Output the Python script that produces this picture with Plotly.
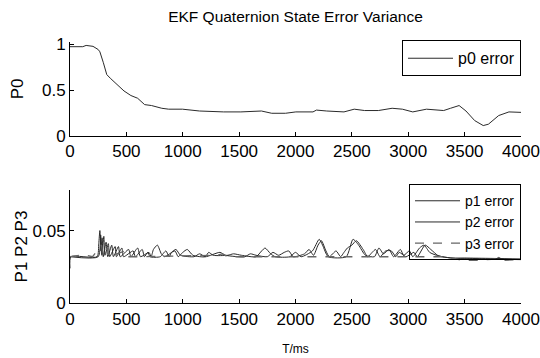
import plotly.graph_objects as go

# ---- data ----
t0 = [0, 113, 143, 204, 250, 265, 296, 326, 357, 418, 479, 540, 600, 662, 723, 814, 875, 997, 1149, 1363, 1515,
      1698, 1789, 1911, 2003, 2155, 2186, 2277, 2430, 2521, 2613, 2735, 2857, 2948, 3040, 3162, 3314, 3375, 3451,
      3512, 3589, 3665, 3711, 3802, 3893, 4000]
v0 = [0.976, 0.976, 0.99, 0.98, 0.945, 0.92, 0.80, 0.67, 0.63, 0.56, 0.49, 0.44, 0.41, 0.34, 0.33, 0.30, 0.29, 0.29,
      0.27, 0.26, 0.26, 0.27, 0.245, 0.245, 0.26, 0.26, 0.28, 0.27, 0.26, 0.29, 0.275, 0.275, 0.30, 0.29, 0.26, 0.29,
      0.275, 0.30, 0.33, 0.27, 0.165, 0.11, 0.125, 0.22, 0.26, 0.255]

t1 = [0, 8, 240, 255, 265, 275, 285, 295, 320, 335, 370, 385, 430, 445, 520, 540, 600, 625, 700, 720, 740, 775, 810,
      840, 930, 960, 1000, 1040, 1090, 1200, 1230, 1270, 1400, 1450, 1520, 1650, 1700, 1730, 1780, 1820, 1950, 2000,
      2050, 2150, 2210, 2240, 2290, 2450, 2510, 2560, 2620, 2700, 2740, 2780, 2830, 2870, 2930, 2960, 3010, 3040,
      3100, 3140, 3190, 3250, 3300, 3400, 3500, 3700, 3780, 3800, 3830, 4000]
v1 = [0.024, 0.032, 0.032, 0.041, 0.050, 0.036, 0.045, 0.032, 0.042, 0.032, 0.040, 0.032, 0.039, 0.032, 0.037,
      0.032, 0.038, 0.032, 0.035, 0.032, 0.037, 0.040, 0.034, 0.032, 0.036, 0.032, 0.035, 0.037, 0.033, 0.032,
      0.035, 0.033, 0.033, 0.034, 0.033, 0.032, 0.036, 0.038, 0.034, 0.032, 0.032, 0.035, 0.032, 0.036, 0.044,
      0.040, 0.032, 0.032, 0.044, 0.040, 0.033, 0.032, 0.038, 0.034, 0.037, 0.032, 0.037, 0.033, 0.036, 0.032,
      0.038, 0.040, 0.035, 0.033, 0.032, 0.031, 0.031, 0.0305, 0.0305, 0.0315, 0.0305, 0.030]

t2 = [0, 250, 272, 282, 300, 310, 340, 352, 400, 412, 460, 475, 560, 580, 640, 660, 690, 710, 800, 850, 880, 900,
      940, 980, 1100, 1150, 1200, 1330, 1380, 1550, 1600, 1650, 1750, 1800, 1850, 1900, 1940, 1980, 2080, 2120,
      2160, 2200, 2230, 2270, 2300, 2360, 2400, 2430, 2460, 2500, 2540, 2600, 2640, 2680, 2710, 2750, 2800, 2850,
      2890, 2920, 2980, 3050, 3080, 3150, 3200, 3260, 3300, 3400, 3600, 4000]
v2 = [0.032, 0.032, 0.047, 0.033, 0.046, 0.033, 0.041, 0.032, 0.039, 0.032, 0.038, 0.032, 0.036, 0.032, 0.037,
      0.032, 0.035, 0.032, 0.032, 0.036, 0.032, 0.035, 0.037, 0.033, 0.032, 0.034, 0.032, 0.035, 0.033, 0.032,
      0.034, 0.033, 0.032, 0.035, 0.033, 0.035, 0.036, 0.032, 0.034, 0.037, 0.033, 0.040, 0.043, 0.036, 0.032,
      0.036, 0.032, 0.035, 0.038, 0.040, 0.043, 0.037, 0.032, 0.035, 0.037, 0.032, 0.036, 0.036, 0.032, 0.035,
      0.032, 0.035, 0.032, 0.040, 0.037, 0.033, 0.032, 0.031, 0.031, 0.0305]

t3 = [0, 80, 140, 200, 280, 290, 330, 345, 490, 505, 600, 1300, 1350, 1400, 2000, 3300, 3350, 3400, 3450, 3500,
      3600, 3700, 3800, 3850, 4000]
v3 = [0.032, 0.033, 0.033, 0.032, 0.040, 0.033, 0.038, 0.032, 0.036, 0.032, 0.032, 0.033, 0.034, 0.032, 0.032,
      0.032, 0.0305, 0.031, 0.030, 0.0295, 0.0295, 0.030, 0.0305, 0.0295, 0.030]

x_ticks = [0, 500, 1000, 1500, 2000, 2500, 3000, 3500, 4000]
y0_ticks = [0, 0.5, 1]
y0_labels = ["0", "0.5", "1"]
y1_ticks = [0, 0.05]
y1_labels = ["0", "0.05"]

W, H = 540, 358
FONT = "Liberation Sans, Arial, sans-serif"
LC = "#2a2a2a"

fig = go.Figure()
fig.add_trace(go.Scatter(x=t0, y=v0, mode="lines", name="p0 error", line=dict(color=LC, width=1),
                         xaxis="x", yaxis="y", legend="legend"))
fig.add_trace(go.Scatter(x=t1, y=v1, mode="lines", name="p1 error", line=dict(color=LC, width=1, shape="spline", smoothing=0.6),
                         xaxis="x2", yaxis="y2", legend="legend2"))
fig.add_trace(go.Scatter(x=t2, y=v2, mode="lines", name="p2 error", line=dict(color=LC, width=1, shape="spline", smoothing=0.6),
                         xaxis="x2", yaxis="y2", legend="legend2"))
fig.add_trace(go.Scatter(x=t3, y=v3, mode="lines", name="p3 error", line=dict(color="#666666", width=1.3, dash="dash"),
                         xaxis="x2", yaxis="y2", legend="legend2"))

axis_common = dict(showline=True, linecolor="black", linewidth=1, showgrid=False, zeroline=False,
                   ticks="inside", ticklen=4, tickcolor="black", tickfont=dict(family=FONT, size=17, color="black"),
                   mirror=False)

fig.update_layout(
    width=W, height=H,
    margin=dict(l=70, r=19, t=0, b=0),
    paper_bgcolor="white", plot_bgcolor="white",
    font=dict(family=FONT, color="black"),
    showlegend=True,
    title=dict(text="EKF Quaternion State Error Variance", x=0.5, xref="paper", y=1 - 17 / H, yanchor="middle",
               xanchor="center", font=dict(family=FONT, size=15.5, color="black")),
    xaxis=dict(domain=[0, 1], range=[0, 4000], tickvals=x_ticks, anchor="y", **axis_common),
    yaxis=dict(domain=[1 - 135 / H, 1 - 37 / H], range=[0, 1.025], tickvals=y0_ticks, ticktext=y0_labels, anchor="x",
               title=dict(text="P0", standoff=13, font=dict(family=FONT, size=17, color="black")), **axis_common),
    xaxis2=dict(domain=[0, 1], range=[0, 4000], tickvals=x_ticks, anchor="y2",
                title=dict(text="T/ms", standoff=16, font=dict(family=FONT, size=12, color="black")), **axis_common),
    yaxis2=dict(domain=[1 - 311 / H, 1 - 192 / H], range=[0, 0.078], tickvals=y1_ticks, ticktext=y1_labels, anchor="x2",
                title=dict(text="P1 P2 P3", standoff=0, font=dict(family=FONT, size=17, color="black")), **axis_common),
    legend=dict(x=1, xanchor="right", y=1 - 35 / H, yanchor="top", bgcolor="white", bordercolor="black",
                borderwidth=1, font=dict(family=FONT, size=16, color="black"), itemwidth=45,
                tracegroupgap=0),
    legend2=dict(x=1, xanchor="right", y=1 - 186 / H, yanchor="top", bgcolor="rgba(255,255,255,0)",
                 bordercolor="black", borderwidth=1, font=dict(family=FONT, size=14, color="black"), itemwidth=45,
                 tracegroupgap=0),
)

fig.write_html("out.html")
